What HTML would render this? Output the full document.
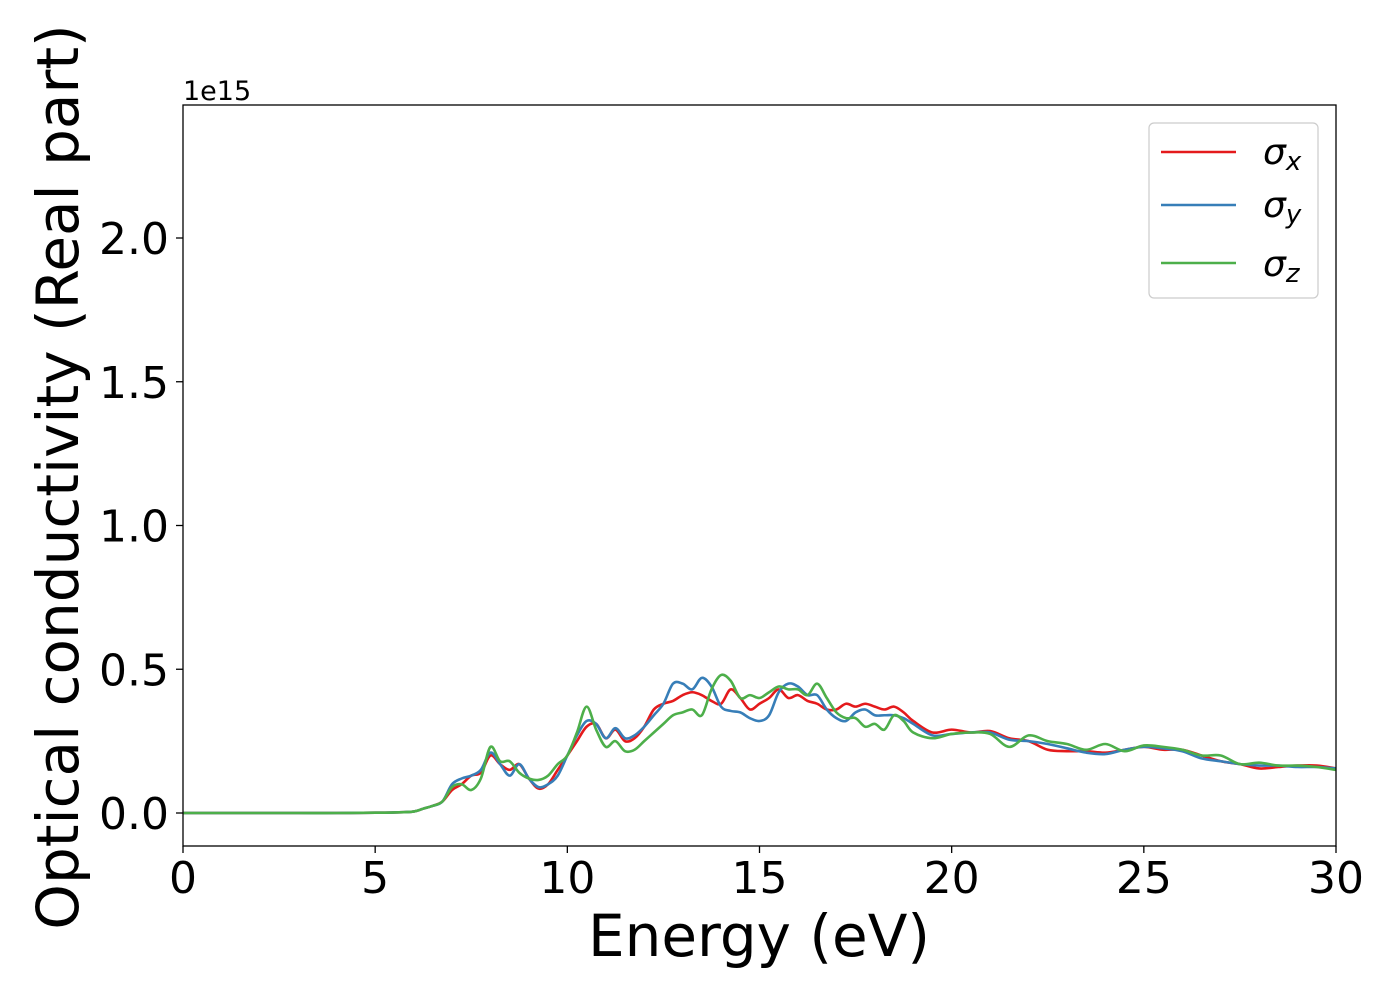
<!DOCTYPE html>
<html><head><meta charset="utf-8">
<style>
html,body{margin:0;padding:0;background:#fff;}
svg{display:block;font-family:"DejaVu Sans","Liberation Sans",sans-serif;}
</style></head>
<body>
<svg id="chart" width="1400" height="1000" viewBox="0 0 1400 1000" xmlns="http://www.w3.org/2000/svg">
<rect x="0" y="0" width="1400" height="1000" fill="#fff"/>
<g id="series"></g>
<rect x="183" y="105" width="1153" height="741" fill="none" stroke="#000" stroke-width="1.3"/>
<g id="xticks"></g>
<g id="yticks"></g>
<text x="183" y="100" font-size="27">1e15</text>
<text x="759" y="956" font-size="58" text-anchor="middle">Energy (eV)</text>
<text transform="translate(78,477) rotate(-90)" font-size="58" text-anchor="middle">Optical conductivity (Real part)</text>
<g>
<rect x="1149" y="123" width="169" height="175" rx="5" fill="#fff" fill-opacity="0.8" stroke="#ccc" stroke-width="1.2"/>
<line x1="1161" y1="152" x2="1236" y2="152" stroke="#e41a1c" stroke-width="2.5"/>
<text x="1263" y="164" font-size="36" font-style="italic">σ<tspan font-size="26" dy="6">x</tspan></text>
<line x1="1161" y1="205" x2="1236" y2="205" stroke="#377eb8" stroke-width="2.5"/>
<text x="1263" y="217" font-size="36" font-style="italic">σ<tspan font-size="26" dy="6">y</tspan></text>
<line x1="1161" y1="263" x2="1236" y2="263" stroke="#4daf4a" stroke-width="2.5"/>
<text x="1263" y="276" font-size="36" font-style="italic">σ<tspan font-size="26" dy="6">z</tspan></text>
</g>
</svg>
<script>
const energy = [0,1,2,3,4,5,5.5,6,6.25,6.5,6.75,7,7.25,7.5,7.75,8,8.25,8.5,8.75,9,9.25,9.5,9.75,10,10.25,10.5,10.75,11,11.25,11.5,11.75,12,12.25,12.5,12.75,13,13.25,13.5,13.75,14,14.25,14.5,14.75,15,15.25,15.5,15.75,16,16.25,16.5,16.75,17,17.25,17.5,17.75,18,18.25,18.5,18.75,19,19.5,20,20.5,21,21.5,22,22.5,23,23.5,24,24.5,25,25.5,26,26.5,27,27.5,28,28.5,29,29.5,30];
const sigmaX = [0,0,0,0,0,0.001,0.002,0.005,0.015,0.025,0.04,0.08,0.1,0.13,0.14,0.2,0.17,0.15,0.17,0.12,0.085,0.1,0.15,0.2,0.25,0.3,0.31,0.26,0.29,0.25,0.26,0.3,0.36,0.38,0.39,0.41,0.42,0.41,0.39,0.38,0.43,0.4,0.36,0.38,0.4,0.43,0.4,0.41,0.39,0.38,0.36,0.36,0.38,0.37,0.38,0.37,0.36,0.37,0.35,0.32,0.28,0.29,0.28,0.285,0.26,0.25,0.22,0.215,0.215,0.21,0.22,0.23,0.22,0.22,0.2,0.18,0.17,0.155,0.16,0.165,0.165,0.155];
const sigmaY = [0,0,0,0,0,0.001,0.002,0.005,0.015,0.025,0.04,0.1,0.12,0.13,0.15,0.21,0.17,0.13,0.17,0.12,0.09,0.1,0.13,0.2,0.27,0.32,0.31,0.26,0.295,0.26,0.27,0.3,0.34,0.38,0.45,0.45,0.43,0.47,0.44,0.37,0.355,0.35,0.33,0.32,0.34,0.42,0.45,0.44,0.41,0.41,0.36,0.33,0.32,0.35,0.36,0.34,0.34,0.34,0.33,0.31,0.27,0.275,0.28,0.28,0.255,0.25,0.24,0.225,0.21,0.205,0.22,0.23,0.225,0.215,0.19,0.18,0.17,0.165,0.165,0.16,0.16,0.155];
const sigmaZ = [0,0,0,0,0,0.001,0.002,0.005,0.015,0.025,0.04,0.09,0.1,0.08,0.12,0.23,0.18,0.18,0.14,0.12,0.115,0.13,0.17,0.2,0.28,0.37,0.29,0.23,0.25,0.215,0.22,0.25,0.28,0.31,0.34,0.35,0.36,0.34,0.43,0.48,0.46,0.4,0.41,0.4,0.42,0.44,0.43,0.43,0.41,0.45,0.4,0.35,0.33,0.33,0.3,0.31,0.29,0.34,0.32,0.28,0.26,0.275,0.28,0.275,0.23,0.27,0.25,0.24,0.22,0.24,0.215,0.235,0.23,0.22,0.2,0.2,0.17,0.175,0.165,0.165,0.16,0.15];
const xTickValues = [0,5,10,15,20,25,30];
const yTickValues = [0,0.5,1.0,1.5,2.0];
const yTickLabels = ["0.0","0.5","1.0","1.5","2.0"];

const NS = "http://www.w3.org/2000/svg";
const X0 = 183, X1 = 1336, XMIN = 0, XMAX = 30;
const Y0PIX = 813, YPERUNIT = 287.5, YBOTTOM = 846;
function xScale(v){ return X0 + (v - XMIN) / (XMAX - XMIN) * (X1 - X0); }
function yScale(v){ return Y0PIX - v * YPERUNIT; }

function smoothPath(xs, ys){
  const pts = xs.map((x,i)=>[xScale(x), yScale(ys[i])]);
  let d = "M" + pts[0][0].toFixed(2) + "," + pts[0][1].toFixed(2);
  for (let i = 0; i < pts.length - 1; i++){
    const p0 = pts[Math.max(0,i-1)], p1 = pts[i], p2 = pts[i+1], p3 = pts[Math.min(pts.length-1,i+2)];
    const c1x = p1[0] + (p2[0]-p0[0])/6, c1y = p1[1] + (p2[1]-p0[1])/6;
    const c2x = p2[0] - (p3[0]-p1[0])/6, c2y = p2[1] - (p3[1]-p1[1])/6;
    d += " C" + c1x.toFixed(2) + "," + c1y.toFixed(2) + " " + c2x.toFixed(2) + "," + c2y.toFixed(2) + " " + p2[0].toFixed(2) + "," + p2[1].toFixed(2);
  }
  return d;
}

const seriesG = document.getElementById("series");
const seriesDefs = [[sigmaX,"#e41a1c","sigma-x-line"],[sigmaY,"#377eb8","sigma-y-line"],[sigmaZ,"#4daf4a","sigma-z-line"]];
seriesDefs.forEach(s => {
  const p = document.createElementNS(NS, "path");
  p.setAttribute("d", smoothPath(energy, s[0]));
  p.setAttribute("fill", "none");
  p.setAttribute("stroke", s[1]);
  p.setAttribute("stroke-width", "2.6");
  p.setAttribute("stroke-linejoin", "round");
  
  
  seriesG.appendChild(p);
});

const xg = document.getElementById("xticks");
xTickValues.forEach(v => {
  const x = xScale(v);
  const l = document.createElementNS(NS, "line");
  l.setAttribute("x1", x); l.setAttribute("x2", x);
  l.setAttribute("y1", YBOTTOM); l.setAttribute("y2", YBOTTOM + 7);
  l.setAttribute("stroke", "#000"); l.setAttribute("stroke-width", "1.3");
  
  
  xg.appendChild(l);
  const t = document.createElementNS(NS, "text");
  t.setAttribute("x", x); t.setAttribute("y", 893);
  t.setAttribute("font-size", "44"); t.setAttribute("text-anchor", "middle");
  t.textContent = String(v);
  
  
  xg.appendChild(t);
});

const yg = document.getElementById("yticks");
yTickValues.forEach((v,i) => {
  const y = yScale(v);
  const l = document.createElementNS(NS, "line");
  l.setAttribute("x1", X0 - 7); l.setAttribute("x2", X0);
  l.setAttribute("y1", y); l.setAttribute("y2", y);
  l.setAttribute("stroke", "#000"); l.setAttribute("stroke-width", "1.3");
  
  
  yg.appendChild(l);
  const t = document.createElementNS(NS, "text");
  t.setAttribute("x", 169); t.setAttribute("y", y + 16);
  t.setAttribute("font-size", "44"); t.setAttribute("text-anchor", "end");
  t.textContent = yTickLabels[i];
  
  
  yg.appendChild(t);
});
</script>
</body></html>
